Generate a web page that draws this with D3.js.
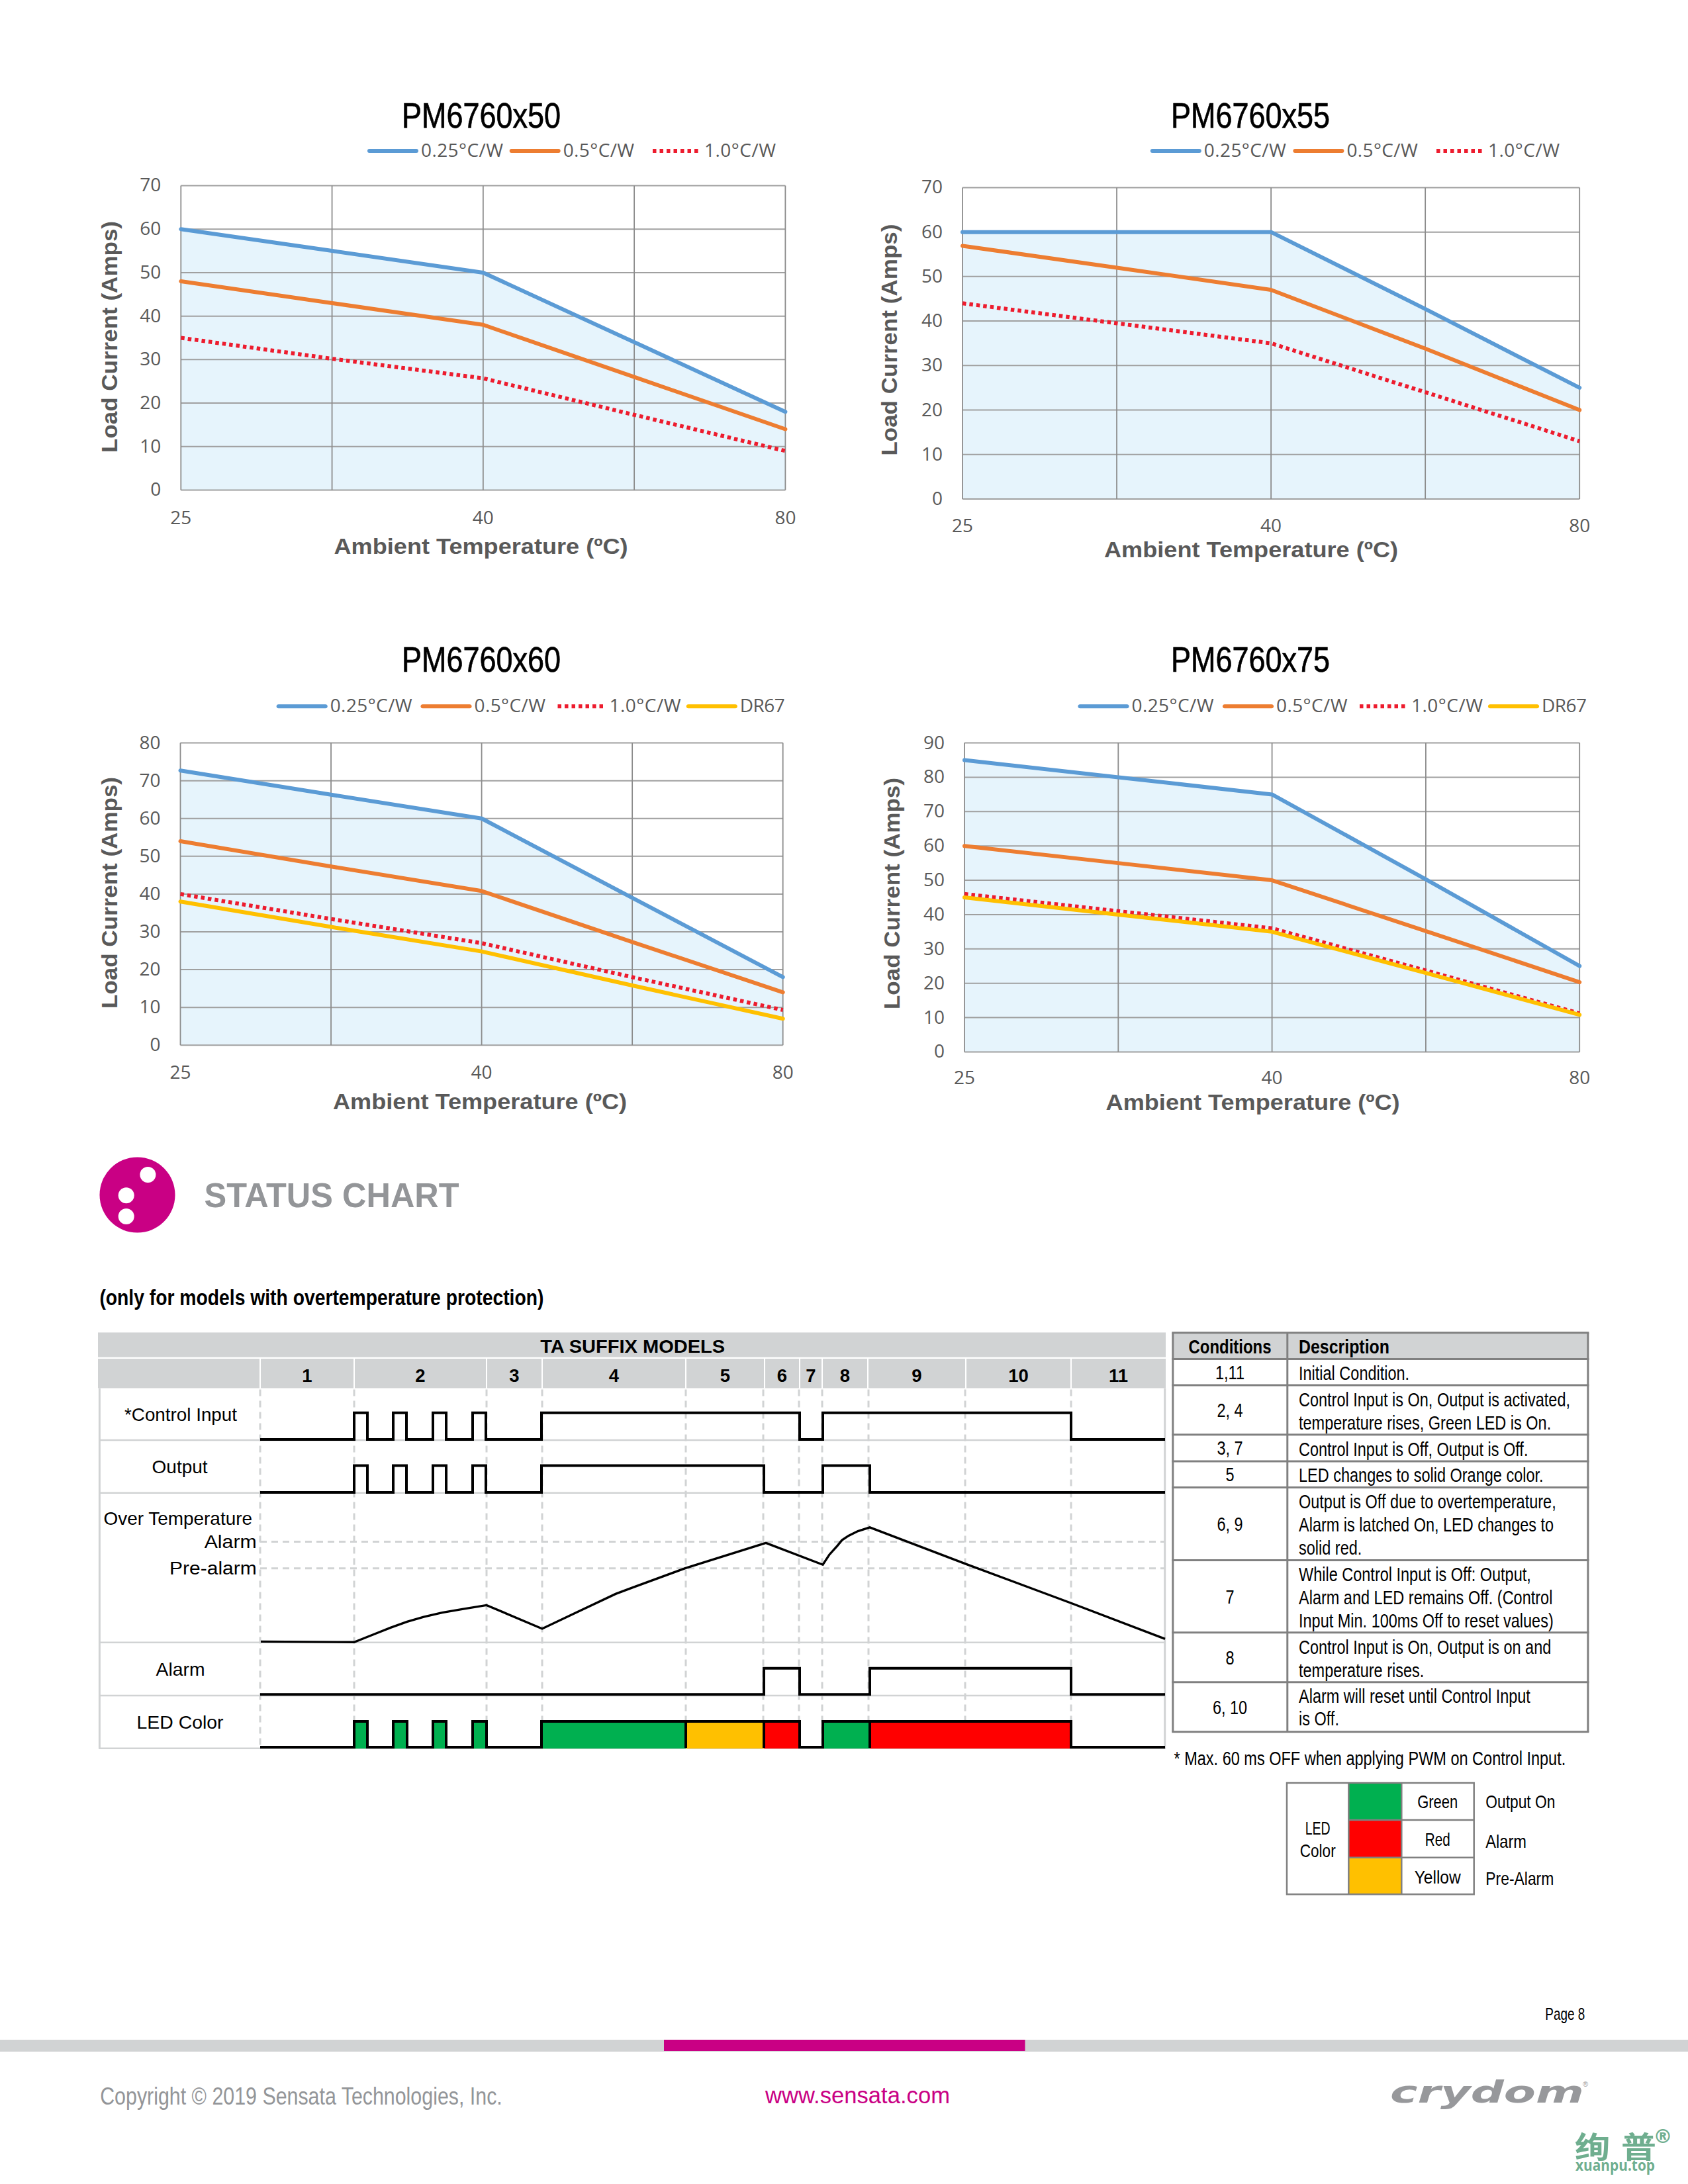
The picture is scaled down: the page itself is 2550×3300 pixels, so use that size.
<!DOCTYPE html>
<html>
<head>
<meta charset="utf-8">
<title>PM6760 derating and status chart</title>
<script src="https://cdn.jsdelivr.net/npm/d3@7"></script>
<style>
  html, body { margin: 0; padding: 0; background: #fff; }
  svg { display: block; }
</style>
</head>
<body>
<svg id="page" width="2550" height="3300"></svg>
<script>
// derating curves (only 25, 40 and 80 are labelled)
const xTickLabels = ['25', '', '40', '', '80']

const x50Blue = [60, 55, 50, 34, 18]
const x50Orange = [48, 43, 38, 26, 14]
const x50Red = [35, 30.2, 25.7, 17.3, 9]

const x55Blue = [60, 60, 60, 42.7, 25]
const x55Orange = [56.9, 52, 47, 33.8, 20]
const x55Red = [44, 39.5, 35, 24, 13]

const x60Blue = [72.7, 66.3, 60, 39, 18]
const x60Orange = [54, 47.3, 40.8, 27.3, 14]
const x60Red = [40, 33.4, 27, 18, 9.3]
const x60Yellow = [38, 31.3, 24.8, 15.8, 7]

const x75Blue = [85, 80, 75, 50.3, 25]
const x75Orange = [60, 55, 50, 35.2, 20.3]
const x75Red = [46, 41, 36, 23.7, 11.2]
const x75Yellow = [45, 40, 35, 23, 10.8]

const ticks70 = [0, 10, 20, 30, 40, 50, 60, 70]
const ticks80 = [0, 10, 20, 30, 40, 50, 60, 70, 80]
const ticks90 = [0, 10, 20, 30, 40, 50, 60, 70, 80, 90]

// status chart, times in arbitrary units along the diagram
const columnNames = ['1', '2', '3', '4', '5', '6', '7', '8', '9', '10', '11']
const columnEdges = [0, 142, 342, 426, 643, 762, 815, 849, 918, 1066, 1225, 1368]
const dashEdges = [0, 142, 342, 426, 643, 760, 814, 849, 919, 1065, 1225]
const controlEdges = [142, 162, 201, 221, 261, 281, 321, 341, 425, 815, 850, 1225]
const outputEdges = [142, 162, 201, 221, 261, 281, 321, 341, 425, 761, 850, 921]
const alarmEdges = [761, 815, 921, 1225]
const ledEdges = [142, 162, 201, 222, 261, 281, 321, 342, 425, 815, 850, 1225]
const ledStarts = [142, 201, 261, 321, 425, 643, 761, 850, 921]
const ledEnds = [162, 222, 281, 342, 643, 761, 815, 921, 1225]
const ledKinds = ['Green', 'Green', 'Green', 'Green', 'Green', 'Yellow', 'Red', 'Green', 'Red']
const tempTimes = [1, 142, 159, 176, 197, 222, 247, 275, 307, 342, 426, 477, 537, 563, 642, 764, 850, 860, 872, 879, 889, 903, 921, 1068, 1225, 1367]
const tempValues = [0.6, 0, 4.5, 8.9, 14.4, 20.3, 25.2, 29.4, 33.1, 36.8, 13.4, 29.4, 48, 54.5, 73.5, 98.8, 77.1, 87.2, 96, 101.6, 106, 110.5, 114.3, 77.4, 38.9, 3.2]
const alarmLevel = 100
const preAlarmLevel = 73.5

const conditionNames = ['1,11', '2, 4', '3, 7', '5', '6, 9', '7', '8', '6, 10']
const descriptions = [
  ['Initial Condition.'],
  ['Control Input is On, Output is activated,', 'temperature rises, Green LED is On.'],
  ['Control Input is Off, Output is Off.'],
  ['LED changes to solid Orange color.'],
  ['Output is Off due to overtemperature,', 'Alarm is latched On, LED changes to', 'solid red.'],
  ['While Control Input is Off: Output,', 'Alarm and LED remains Off. (Control', 'Input Min. 100ms Off to reset values)'],
  ['Control Input is On, Output is on and', 'temperature rises.'],
  ['Alarm will reset until Control Input', 'is Off.']
]
const ledColorNames = ['Green', 'Red', 'Yellow']
const ledMeanings = ['Output On', 'Alarm', 'Pre-Alarm']

const BLUE = '#5B9BD5', ORANGE = '#ED7D31', RED = '#ED1C2E', YELLOW = '#FFC000'
const LED_GREEN = '#00B050', LED_RED = '#FF0000', LED_YELLOW = '#FFC000'
const MAGENTA = '#C90084', LIGHT = '#D1D3D4', SOFT = '#939598', TEXT = '#595959', CELL = '#808080'
const SANS = '"Liberation Sans", Arial, sans-serif'
const OPEN = '"Open Sans", sans-serif'
const TABLE_SQUEEZE = 0.81

const svg = d3.select('#page')
svg.append('rect').attr('width', 2550).attr('height', 3300).attr('fill', '#fff')

function txt(parent, x, y, str, o = {}) {
  const t = parent.append('text')
    .attr('x', x).attr('y', y)
    .attr('font-family', o.family || SANS)
    .attr('font-size', o.size || 28)
    .attr('font-weight', o.weight || 'normal')
    .attr('font-style', o.style || 'normal')
    .attr('fill', o.fill || '#000')
    .attr('text-anchor', o.anchor || 'start')
    .text(str)
  if (o.width) {
    t.attr('textLength', o.width).attr('lengthAdjust', o.adjust || 'spacingAndGlyphs')
  }
  if (o.squeeze) {
    t.attr('textLength', t.node().getComputedTextLength() * o.squeeze).attr('lengthAdjust', 'spacingAndGlyphs')
  }
  if (o.heavy) t.attr('stroke', o.fill || '#000').attr('stroke-width', o.heavy)
  if (o.rotate) t.attr('transform', `rotate(${o.rotate} ${x} ${y})`)
  return t
}

// ---- derating panels ----
const series025 = { name: '0.25°C/W', color: BLUE, textWidth: 124 }
const series05 = { name: '0.5°C/W', color: ORANGE, textWidth: 107.5 }
const series10 = { name: '1.0°C/W', color: RED, textWidth: 108, dotted: true }
const seriesDR = { name: 'DR67', color: YELLOW, textWidth: 68 }

const panels = [
  { title: 'PM6760x50', ticks: ticks70, left: 273.3, right: 1186.4, top: 280.5, bottom: 740.5,
    titleX: 727, titleY: 193, legendX: 558, legendY: 228, legendSteps: [214.7, 213.3],
    tickY: 791.5, xLabelX: 726.5, xLabelY: 837, yLabelX: 177, yLabelY: 509,
    lines: [[series025, x50Blue], [series05, x50Orange], [series10, x50Red]] },
  { title: 'PM6760x55', ticks: ticks70, left: 1454, right: 2386.2, top: 283.4, bottom: 754,
    titleX: 1889, titleY: 193, legendX: 1740.8, legendY: 228, legendSteps: [215.6, 213.6],
    tickY: 803.5, xLabelX: 1890, xLabelY: 842, yLabelX: 1355, yLabelY: 513.6,
    lines: [[series025, x55Blue], [series05, x55Orange], [series10, x55Red]] },
  { title: 'PM6760x60', ticks: ticks80, left: 272.5, right: 1182.7, top: 1122.6, bottom: 1579.2,
    titleX: 727, titleY: 1015, legendX: 420.7, legendY: 1067.3, legendSteps: [217.8, 204, 197.3],
    tickY: 1629.6, xLabelX: 725, xLabelY: 1676, yLabelX: 177, yLabelY: 1349,
    lines: [[series025, x60Blue], [series05, x60Orange], [series10, x60Red], [seriesDR, x60Yellow]] },
  { title: 'PM6760x75', ticks: ticks90, left: 1457, right: 2386.2, top: 1122.6, bottom: 1589.4,
    titleX: 1889, titleY: 1015, legendX: 1631.5, legendY: 1067.3, legendSteps: [218.5, 204, 197],
    tickY: 1638, xLabelX: 1892.6, xLabelY: 1677, yLabelX: 1358.7, yLabelY: 1350,
    lines: [[series025, x75Blue], [series05, x75Orange], [series10, x75Red], [seriesDR, x75Yellow]] }
]

panels.forEach(p => {
  const g = svg.append('g')
  const x = d3.scalePoint().domain(d3.range(xTickLabels.length)).range([p.left, p.right])
  const y = d3.scaleLinear().domain([0, d3.max(p.ticks)]).range([p.bottom, p.top])
  const blue = p.lines.find(l => l[0] === series025)[1]

  g.append('path')
    .datum(blue)
    .attr('fill', '#E6F4FC')
    .attr('d', d3.area().x((d, i) => x(i)).y0(y(0)).y1(d => y(d)))

  const yAxis = g.append('g').attr('transform', `translate(${p.left},0)`)
    .call(d3.axisLeft(y).tickValues(p.ticks).tickSize(p.left - p.right).offset(0))
  yAxis.select('.domain').remove()
  yAxis.selectAll('line').attr('stroke', '#A0A0A0').attr('stroke-width', 2)
  yAxis.selectAll('text')
    .attr('x', -30).attr('font-family', OPEN).attr('font-size', 28).attr('fill', TEXT)

  const xAxis = g.append('g').attr('transform', `translate(0,${p.bottom})`)
    .call(d3.axisBottom(x).tickSize(p.top - p.bottom).tickFormat(i => xTickLabels[i]).offset(0))
  xAxis.select('.domain').remove()
  xAxis.selectAll('line').attr('stroke', '#8C8C8C').attr('stroke-width', 1.8)
  xAxis.selectAll('text')
    .attr('y', p.tickY - p.bottom).attr('dy', 0)
    .attr('font-family', OPEN).attr('font-size', 28).attr('fill', TEXT)

  const line = d3.line().x((d, i) => x(i)).y(d => y(d))
  p.lines.forEach(([s, values]) => {
    g.append('path')
      .datum(values)
      .attr('fill', 'none')
      .attr('stroke', s.color)
      .attr('stroke-width', 6)
      .attr('stroke-linejoin', 'round')
      .attr('stroke-linecap', s.dotted ? 'butt' : 'round')
      .attr('stroke-dasharray', s.dotted ? '5.5 5' : null)
      .attr('d', line)
  })

  txt(g, p.titleX, p.titleY, p.title, { size: 54, anchor: 'middle', width: 240, heavy: 0.7 })

  let lx = p.legendX
  p.lines.map(l => l[0]).forEach((s, i) => {
    g.append('line')
      .attr('x1', lx).attr('x2', lx + 71).attr('y1', p.legendY).attr('y2', p.legendY)
      .attr('stroke', s.color).attr('stroke-width', 6)
      .attr('stroke-linecap', s.dotted ? 'butt' : 'round')
      .attr('stroke-dasharray', s.dotted ? '5.5 5' : null)
    txt(g, lx + 78, p.legendY + 8.5, s.name, { family: OPEN, size: 28, fill: TEXT, width: s.textWidth, adjust: 'spacing' })
    lx += p.legendSteps[i]
  })

  txt(g, p.xLabelX, p.xLabelY, 'Ambient Temperature (ºC)', { size: 33, weight: 'bold', fill: TEXT, anchor: 'middle', width: 444 })
  txt(g, p.yLabelX, p.yLabelY, 'Load Current (Amps)', { size: 34, weight: 'bold', fill: TEXT, anchor: 'middle', width: 350, rotate: -90 })
})

// ---- status heading ----
svg.append('circle').attr('cx', 207.5).attr('cy', 1805.5).attr('r', 57).attr('fill', MAGENTA)
svg.selectAll('.hole')
  .data([[223.4, 1775], [190.7, 1806.3], [190.7, 1838]])
  .join('circle')
  .attr('class', 'hole')
  .attr('cx', d => d[0]).attr('cy', d => d[1]).attr('r', 12).attr('fill', '#fff')
txt(svg, 308.6, 1824, 'STATUS CHART', { size: 52, weight: 'bold', fill: SOFT, width: 385 })
txt(svg, 150.4, 1971.5, '(only for models with overtemperature protection)', { size: 33, weight: 'bold', width: 671 })

// ---- timing diagram ----
const timing = svg.append('g')
const t = d3.scaleLinear().domain([0, 1368]).range([393, 1761])
const TOP = 2097.5, BOTTOM = 2642

timing.append('rect').attr('x', 148).attr('y', 2013.4).attr('width', 1613).attr('height', 37.3).attr('fill', LIGHT)
timing.append('rect').attr('x', 148).attr('y', 2053).attr('width', 1613).attr('height', 44.5).attr('fill', LIGHT)
txt(timing, 955.7, 2044.2, 'TA SUFFIX MODELS', { size: 28, weight: 'bold', anchor: 'middle', width: 279 })

timing.selectAll('.col-sep')
  .data(columnEdges.slice(0, -1))
  .join('line')
  .attr('class', 'col-sep')
  .attr('x1', d => t(d)).attr('x2', d => t(d)).attr('y1', 2053).attr('y2', TOP)
  .attr('stroke', '#fff').attr('stroke-width', 2)

columnNames.forEach((name, i) => {
  txt(timing, t((columnEdges[i] + columnEdges[i + 1]) / 2), 2088.4, name, { size: 27.5, weight: 'bold', anchor: 'middle' })
})

// frame and row dividers
const rowLines = [2176, 2255.8, 2481.7, 2562, 2641.8]
timing.selectAll('.row-line')
  .data(rowLines)
  .join('line')
  .attr('class', 'row-line')
  .attr('x1', 149).attr('x2', 1761).attr('y1', d => d).attr('y2', d => d)
  .attr('stroke', LIGHT).attr('stroke-width', 2.5)
timing.selectAll('.frame')
  .data([150.4, 1759.7])
  .join('line')
  .attr('class', 'frame')
  .attr('x1', d => d).attr('x2', d => d).attr('y1', TOP).attr('y2', BOTTOM)
  .attr('stroke', LIGHT).attr('stroke-width', 3)

timing.selectAll('.dash-v')
  .data(dashEdges)
  .join('line')
  .attr('class', 'dash-v')
  .attr('x1', d => t(d)).attr('x2', d => t(d)).attr('y1', TOP + 2).attr('y2', BOTTOM)
  .attr('stroke', LIGHT).attr('stroke-width', 3).attr('stroke-dasharray', '10 7')

const temp = d3.scaleLinear().domain([0, alarmLevel]).range([2481.3, 2329.5])
timing.selectAll('.dash-h')
  .data([alarmLevel, preAlarmLevel])
  .join('line')
  .attr('class', 'dash-h')
  .attr('x1', t(0)).attr('x2', 1760).attr('y1', d => temp(d)).attr('y2', d => temp(d))
  .attr('stroke', LIGHT).attr('stroke-width', 3).attr('stroke-dasharray', '10 7')

// LED colour blocks go under their black outline
const ledFill = { Green: LED_GREEN, Red: LED_RED, Yellow: LED_YELLOW }
const ledLevel = d3.scaleLinear().domain([0, 1]).range([2640, 2601])
timing.selectAll('.led')
  .data(ledStarts)
  .join('rect')
  .attr('class', 'led')
  .attr('x', d => t(d))
  .attr('width', (d, i) => t(ledEnds[i]) - t(d))
  .attr('y', ledLevel(1))
  .attr('height', 41)
  .attr('fill', (d, i) => ledFill[ledKinds[i]])

function edgesToSteps(edges) {
  const pts = [[0, 0]]
  edges.forEach((e, i) => pts.push([e, (i + 1) % 2]))
  pts.push([1367, edges.length % 2])
  return pts
}
function drawSignal(edges, level) {
  timing.append('path')
    .datum(edgesToSteps(edges))
    .attr('fill', 'none')
    .attr('stroke', '#000')
    .attr('stroke-width', 4)
    .attr('stroke-linejoin', 'miter')
    .attr('d', d3.line().x(d => t(d[0])).y(d => level(d[1])).curve(d3.curveStepAfter))
}
drawSignal(controlEdges, d3.scaleLinear().domain([0, 1]).range([2175, 2134.8]))
drawSignal(outputEdges, d3.scaleLinear().domain([0, 1]).range([2255, 2214.6]))
drawSignal(alarmEdges, d3.scaleLinear().domain([0, 1]).range([2560.2, 2520.8]))
drawSignal(ledEdges, ledLevel)

// black dividers between LED colours that touch
timing.selectAll('.led-div')
  .data([643, 761, 921])
  .join('line')
  .attr('class', 'led-div')
  .attr('x1', d => t(d)).attr('x2', d => t(d)).attr('y1', ledLevel(1)).attr('y2', 2641)
  .attr('stroke', '#000').attr('stroke-width', 4)

timing.append('path')
  .datum(tempTimes)
  .attr('fill', 'none')
  .attr('stroke', '#000')
  .attr('stroke-width', 3.4)
  .attr('d', d3.line().x(d => t(d)).y((d, i) => temp(tempValues[i])))

txt(timing, 273, 2147, '*Control Input', { anchor: 'middle', width: 170 })
txt(timing, 271.6, 2226, 'Output', { anchor: 'middle', width: 84 })
txt(timing, 156.5, 2304, 'Over Temperature', { width: 224.5 })
txt(timing, 387.7, 2338.6, 'Alarm', { anchor: 'end', width: 79 })
txt(timing, 387.7, 2379, 'Pre-alarm', { anchor: 'end', width: 131.6 })
txt(timing, 272.6, 2532, 'Alarm', { anchor: 'middle', width: 74 })
txt(timing, 272, 2611.8, 'LED Color', { anchor: 'middle', width: 131 })

// ---- conditions table ----
const table = svg.append('g')
const rowTops = [2053.4, 2093, 2167.7, 2207.9, 2247.6, 2357.4, 2466.8, 2541.8, 2616.8]
const lineBases = [
  [2085], [2125.3, 2160], [2199.8], [2239], [2279.3, 2314, 2349], [2389, 2424, 2458.8], [2499, 2533.8], [2572.6, 2607]
]
table.append('rect').attr('x', 1771.8).attr('y', 2013.7).attr('width', 627).attr('height', 39.7).attr('fill', LIGHT)
table.selectAll('.t-row')
  .data([2013.7].concat(rowTops))
  .join('line')
  .attr('class', 't-row')
  .attr('x1', 1770.3).attr('x2', 2400.4).attr('y1', d => d).attr('y2', d => d)
  .attr('stroke', CELL).attr('stroke-width', 3)
table.selectAll('.t-col')
  .data([1771.8, 1944.8, 2398.9])
  .join('line')
  .attr('class', 't-col')
  .attr('x1', d => d).attr('x2', d => d).attr('y1', 2013.7).attr('y2', 2616.8)
  .attr('stroke', CELL).attr('stroke-width', 3)
txt(table, 1858, 2044.5, 'Conditions', { size: 29, weight: 'bold', anchor: 'middle', width: 125 })
txt(table, 1962, 2044.5, 'Description', { size: 29, weight: 'bold', width: 137 })
descriptions.forEach((lines, i) => {
  const mid = (rowTops[i] + rowTops[i + 1]) / 2
  txt(table, 1858, mid + 10.5, conditionNames[i], { size: 29, anchor: 'middle', squeeze: TABLE_SQUEEZE })
  lines.forEach((l, j) => txt(table, 1962, lineBases[i][j], l, { size: 29, squeeze: TABLE_SQUEEZE }))
})
txt(svg, 1773.5, 2667, '* Max. 60 ms OFF when applying PWM on Control Input.', { size: 29, width: 591.7 })

// ---- LED colour key ----
const key = svg.append('g')
const keyRows = [2694, 2750, 2806.7, 2862.3]
const keyFills = [LED_GREEN, LED_RED, LED_YELLOW]
key.selectAll('.key-fill')
  .data(keyFills)
  .join('rect')
  .attr('class', 'key-fill')
  .attr('x', 2037.3).attr('width', 80)
  .attr('y', (d, i) => keyRows[i]).attr('height', (d, i) => keyRows[i + 1] - keyRows[i])
  .attr('fill', d => d)
key.append('rect').attr('x', 1944).attr('y', 2694).attr('width', 282.7).attr('height', 168.3)
  .attr('fill', 'none').attr('stroke', CELL).attr('stroke-width', 2.5)
key.selectAll('.key-col')
  .data([2037.3, 2117.3])
  .join('line')
  .attr('class', 'key-col')
  .attr('x1', d => d).attr('x2', d => d).attr('y1', 2694).attr('y2', 2862.3)
  .attr('stroke', CELL).attr('stroke-width', 2.5)
key.selectAll('.key-row')
  .data(keyRows.slice(1, 3))
  .join('line')
  .attr('class', 'key-row')
  .attr('x1', 2037.3).attr('x2', 2226.7).attr('y1', d => d).attr('y2', d => d)
  .attr('stroke', CELL).attr('stroke-width', 2.5)
txt(key, 1990.7, 2771.7, 'LED', { size: 28, anchor: 'middle', width: 38 })
txt(key, 1990.7, 2806, 'Color', { size: 28, anchor: 'middle', width: 54 })
const keyBases = [2732.3, 2789.3, 2845.7]
const keyNameWidths = [61, 38, 70]
const keyMeanBases = [2731.7, 2791.7, 2847.7]
const keyMeanWidths = [105, 61.7, 103]
ledColorNames.forEach((n, i) => {
  txt(key, 2171.7, keyBases[i], n, { size: 28, anchor: 'middle', width: keyNameWidths[i] })
  txt(key, 2244.3, keyMeanBases[i], ledMeanings[i], { size: 28, width: keyMeanWidths[i] })
})

// ---- footer ----
txt(svg, 2334.3, 3051.7, 'Page 8', { size: 25, width: 60 })
svg.append('rect').attr('x', 0).attr('y', 3082).attr('width', 2550).attr('height', 18).attr('fill', LIGHT)
svg.append('rect').attr('x', 1003).attr('y', 3082).attr('width', 545.5).attr('height', 17).attr('fill', MAGENTA)
txt(svg, 151.2, 3180, 'Copyright © 2019 Sensata Technologies, Inc.', { size: 36, fill: SOFT, width: 607.6 })
txt(svg, 1156, 3178.3, 'www.sensata.com', { size: 35, fill: MAGENTA, width: 279 })
txt(svg, 2100, 3177.3, 'crydom', { family: '"DejaVu Sans"', size: 46, weight: 'bold', style: 'italic', fill: '#97989B', width: 293 })
txt(svg, 2391, 3153, '®', { size: 11, fill: '#97989B' })

const WATERMARK = '#6FAE8F'
const CJK = '"Noto Sans CJK SC", sans-serif'
txt(svg, 2379, 3261, '绚', { family: CJK, size: 45, weight: 'bold', fill: WATERMARK, width: 53 })
txt(svg, 2449, 3261, '普', { family: CJK, size: 45, weight: 'bold', fill: WATERMARK, width: 53 })
txt(svg, 2512, 3238, '®', { family: '"DejaVu Sans"', size: 29, weight: 'bold', fill: WATERMARK, anchor: 'middle' })
txt(svg, 2380, 3280, 'xuanpu.top', { family: OPEN, size: 23, weight: 'bold', fill: WATERMARK, width: 120 })
</script>
</body>
</html>
